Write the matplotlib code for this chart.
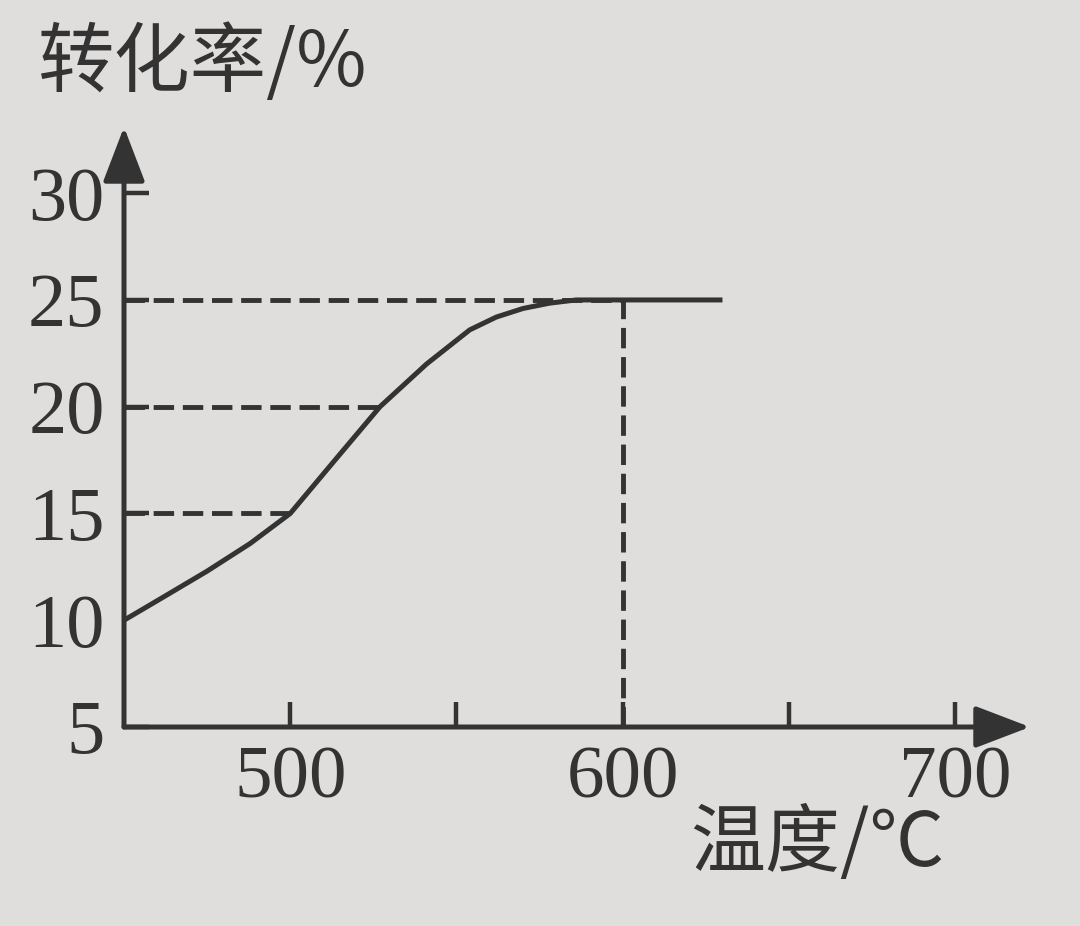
import matplotlib
matplotlib.use("Agg")
import matplotlib.pyplot as plt

# curve
temp = [450, 462, 475, 488, 500, 514, 527, 541, 554, 562, 570, 578, 586, 630]
rate = [10, 11.1, 12.3, 13.6, 15, 17.6, 20, 22.0, 23.6, 24.2, 24.6, 24.85, 25, 25]

# dashed guide lines
guide_y = [25, 20, 15]
guide_x_end = [600, 527, 500]
guide_v_x = 600
guide_v_top = 25

xticks = [500, 550, 600, 650, 700]
xticklabels = ["500", "", "600", "", "700"]
yticks = [5, 10, 15, 20, 25, 30]
yticklabels = ["5", "10", "15", "20", "25", "30"]

ink = "#333333"
paper = "#e0dedc"
serif = ["Liberation Serif", "Noto Sans CJK SC"]
cjk = ["Noto Sans CJK SC", "Liberation Serif"]

fig = plt.figure(figsize=(10.8, 9.26), dpi=100, facecolor=paper)
ax = fig.add_axes([124 / 1080, 199 / 926, 906 / 1080, 600 / 926])
ax.set_facecolor(paper)
ax.set_xlim(450, 722.5)
ax.set_ylim(5, 33.1)

for s in ax.spines.values():
    s.set_visible(False)

# axis lines with arrow heads
arrow = dict(arrowstyle="-|>,head_length=1.7,head_width=0.65", lw=3.6,
             color=ink, mutation_scale=20, shrinkA=0, shrinkB=0)
ax.annotate("", xy=(1, 0), xytext=(0, 0), xycoords="axes fraction",
            arrowprops=arrow, annotation_clip=False)
ax.annotate("", xy=(0, 1), xytext=(0, 0), xycoords="axes fraction",
            arrowprops=arrow, annotation_clip=False)

# guides
for y, xe in zip(guide_y, guide_x_end):
    ax.plot([450, xe], [y, y], color=ink, lw=3.5, dashes=(4.2, 1.8),
            solid_capstyle="butt", clip_on=False)
ax.plot([guide_v_x, guide_v_x], [5, guide_v_top], color=ink, lw=3.5,
        dashes=(4.2, 1.8), clip_on=False)

# curve
ax.plot(temp, rate, color=ink, lw=3.6, solid_joinstyle="round",
        solid_capstyle="butt", clip_on=False)

ax.set_xticks(xticks)
ax.set_xticklabels(xticklabels, fontfamily=serif, fontsize=54, color=ink)
ax.set_yticks(yticks)
ax.set_yticklabels(yticklabels, fontfamily=serif, fontsize=55, color=ink)
ax.tick_params(axis="x", direction="in", length=18, width=3.2, color=ink, pad=14)
ax.tick_params(axis="y", direction="in", length=18, width=3.2, color=ink, pad=14)
# no tick stub at 10 in the original (curve starts there)
ax.yaxis.get_major_ticks()[1].tick1line.set_visible(False)

fig.text(38 / 1080, 1 - 24 / 926, "转化率/%", family=cjk, fontsize=55,
         color=ink, ha="left", va="top")
fig.text(690 / 1080, 1 - 806 / 926, "温度/℃", family=cjk, fontsize=54,
         color=ink, ha="left", va="top")

fig.savefig("out.png", dpi=100, facecolor=paper)
